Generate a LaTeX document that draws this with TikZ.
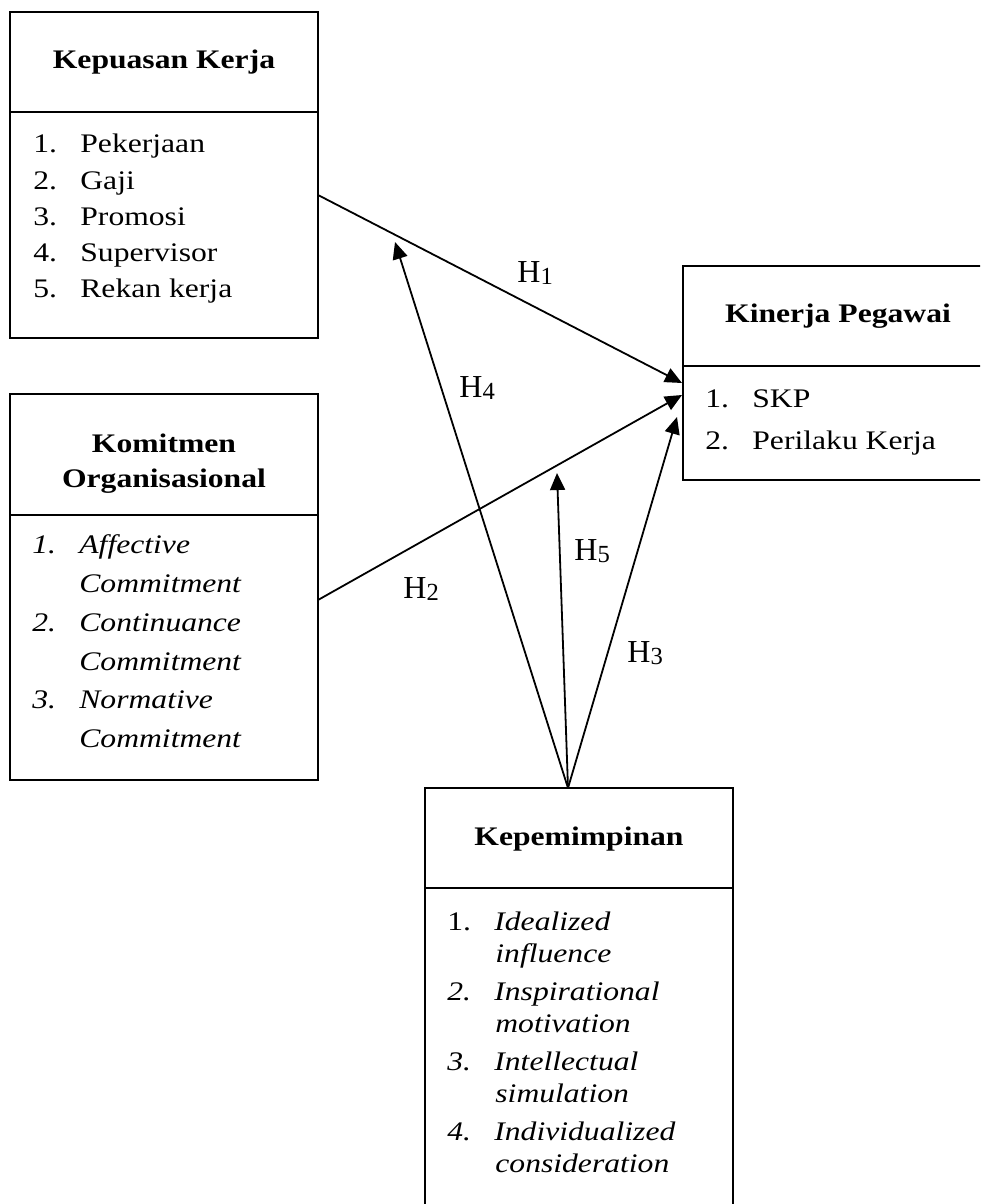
\documentclass[tikz,border=0pt]{standalone}
\usepackage{fontspec}
\usepackage{graphicx}
\setmainfont{Liberation Serif}
\usetikzlibrary{arrows.meta}
\tikzset{
  box/.style={draw, line width=1pt, inner sep=0pt, outer sep=0pt, anchor=north west},
  divider/.style={line width=1pt},
  head/.style={inner sep=0pt, anchor=base, font=\fontsize{13.4}{16}\selectfont\bfseries},
  item/.style={inner sep=0pt, anchor=base west, font=\fontsize{13.4}{16}\selectfont},
  itemit/.style={item, font=\fontsize{13.4}{16}\selectfont\itshape},
  hlab/.style={inner sep=0pt, anchor=base west, font=\fontsize{16}{18}\selectfont},
  link/.style={line width=0.9pt, -{Triangle[length=8.5pt,width=7.5pt]}}
}
\newcommand{\T}[1]{\scalebox{1.18}[1]{#1}}
\newcommand{\num}[2]{\makebox[23.5pt][l]{\T{#1}}\T{#2}}
\newcommand{\hsub}[1]{H\raisebox{-1pt}{\fontsize{12.3}{14}\selectfont #1}}
\begin{document}
\begin{tikzpicture}[x=0.5pt,y=-0.5pt]
\fill[white] (0,0) rectangle (980,1204);
\useasboundingbox (0,0) rectangle (980,1204);
\clip (0,0) rectangle (980,1204);

% Kepuasan Kerja
\node[box, minimum width=154pt, minimum height=163pt] (kk) at (10,12) {};
\draw[divider] (10,112) -- (318,112);
\node[head] (kkh) at (164,69) {\T{Kepuasan Kerja}};
\node[item] (kk1) at (33,153) {\num{1.}{Pekerjaan}};
\node[item] (kk2) at (33,189) {\num{2.}{Gaji}};
\node[item] (kk3) at (33,225) {\num{3.}{Promosi}};
\node[item] (kk4) at (33,261) {\num{4.}{Supervisor}};
\node[item] (kk5) at (33,297) {\num{5.}{Rekan kerja}};

% Komitmen Organisasional
\node[box, minimum width=154pt, minimum height=193pt] (ko) at (10,394) {};
\draw[divider] (10,515) -- (318,515);
\node[head] (koh1) at (164,452) {\T{Komitmen}};
\node[head] (koh2) at (164,487) {\T{Organisasional}};
\node[itemit] (ko1) at (32,553) {\num{1.}{Affective}};
\node[itemit] (ko1b) at (79,592) {\T{Commitment}};
\node[itemit] (ko2) at (32,631) {\num{2.}{Continuance}};
\node[itemit] (ko2b) at (79,670) {\T{Commitment}};
\node[itemit] (ko3) at (32,708) {\num{3.}{Normative}};
\node[itemit] (ko3b) at (79,747) {\T{Commitment}};

% Kinerja Pegawai
\node[box, minimum width=156pt, minimum height=107pt] (kp) at (683,266) {};
\draw[divider] (683,366) -- (995,366);
\node[head] (kph) at (838,322) {\T{Kinerja Pegawai}};
\node[item] (kp1) at (705,407) {\num{1.}{SKP}};
\node[item] (kp2) at (705,449) {\num{2.}{Perilaku Kerja}};

% Kepemimpinan
\node[box, minimum width=154pt, minimum height=225pt] (kep) at (425,788) {};
\draw[divider] (425,888) -- (733,888);
\node[head] (keph) at (579,845) {\T{Kepemimpinan}};
\node[item] (kep1) at (447,930) {\num{1.}{\itshape Idealized}};
\node[itemit] (kep1b) at (495,962) {\T{influence}};
\node[itemit] (kep2) at (447,1000) {\num{2.}{Inspirational}};
\node[itemit] (kep2b) at (495,1032) {\T{motivation}};
\node[itemit] (kep3) at (447,1070) {\num{3.}{Intellectual}};
\node[itemit] (kep3b) at (495,1102) {\T{simulation}};
\node[itemit] (kep4) at (447,1140) {\num{4.}{Individualized}};
\node[itemit] (kep4b) at (495,1172) {\T{consideration}};

% connector end points
\coordinate (kkout) at (318,195);
\coordinate (koout) at (318,600);
\coordinate (kepout) at (568,788);
\coordinate (kpin1) at (682,383);
\coordinate (kpin2) at (682,395);
\coordinate (kpin3) at (677,417);
\coordinate (h4end) at (395,242);
\coordinate (h5end) at (557,473);

\draw[link] (kkout) -- (kpin1);
\draw[link] (koout) -- (kpin2);
\draw[link] (kepout) -- (kpin3);
\draw[link] (kepout) -- (h4end);
\draw[link] (kepout) -- (h5end);

% labels
\node[hlab] (lh1) at (517,282) {\hsub{1}};
\node[hlab] (lh4) at (459,397) {\hsub{4}};
\node[hlab] (lh2) at (403,598) {\hsub{2}};
\node[hlab] (lh5) at (574,560) {\hsub{5}};
\node[hlab] (lh3) at (627,662) {\hsub{3}};
\end{tikzpicture}
\end{document}
